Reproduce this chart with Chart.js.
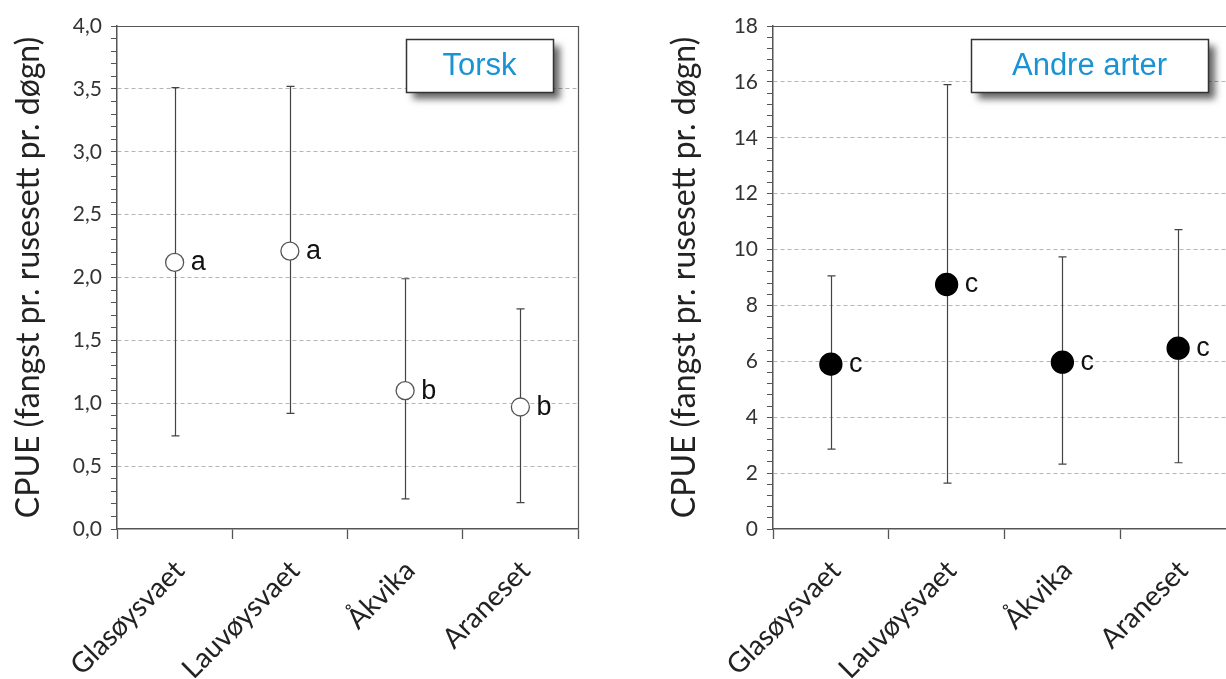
<!DOCTYPE html>
<html>
<head>
<meta charset="utf-8">
<script src="https://cdn.jsdelivr.net/npm/chart.js@4.4.0/dist/chart.umd.min.js"></script>
<style>
  html, body { margin: 0; padding: 0; background: #fff; overflow: hidden; width: 1226px; height: 679px; }
  canvas { position: absolute; top: 0; }
</style>
</head>
<body>
<canvas id="torsk" width="600" height="679" style="left:0px"></canvas>
<canvas id="andre" width="602" height="679" style="left:656px"></canvas>
<script>
var sites = ['Glasøysvaet', 'Lauvøysvaet', 'Åkvika', 'Araneset'];

// Torsk: CPUE mean with lower/upper limits
var torskMean = [2.12, 2.21, 1.10, 0.97];
var torskLow = [0.74, 0.92, 0.24, 0.21];
var torskHigh = [3.51, 3.52, 1.99, 1.75];
var torskGroups = ['a', 'a', 'b', 'b'];

// Andre arter
var andreMean = [5.90, 8.75, 5.97, 6.47];
var andreLow = [2.86, 1.64, 2.32, 2.37];
var andreHigh = [9.06, 15.90, 9.74, 10.71];
var andreGroups = ['c', 'c', 'c', 'c'];

var yTitle = 'CPUE (fangst pr. rusesett pr. døgn)';
var axisColor = '#555';
var textColor = '#333';

// error bars, group letters, frame and the title box
var errorBars = {
  id: 'errorBars',
  beforeDatasetsDraw: function (chart, args, opts) {
    var ctx = chart.ctx, x = chart.scales.x, y = chart.scales.y;
    ctx.save();
    ctx.strokeStyle = '#444';
    ctx.lineWidth = 1.2;
    opts.low.forEach(function (lo, i) {
      var px = Math.round(x.getPixelForValue(i)) + 0.5;
      var yl = y.getPixelForValue(lo);
      var yh = y.getPixelForValue(opts.high[i]);
      ctx.beginPath();
      ctx.moveTo(px, yl); ctx.lineTo(px, yh);
      ctx.moveTo(px - 4, yl); ctx.lineTo(px + 4, yl);
      ctx.moveTo(px - 4, yh); ctx.lineTo(px + 4, yh);
      ctx.stroke();
    });
    ctx.restore();
  },
  afterDatasetsDraw: function (chart, args, opts) {
    var ctx = chart.ctx, x = chart.scales.x, y = chart.scales.y;
    var r = chart.data.datasets[0].pointRadius;
    ctx.save();
    ctx.fillStyle = '#111';
    ctx.font = '27px "Liberation Sans", Arial, sans-serif';
    ctx.textAlign = 'left';
    ctx.textBaseline = 'alphabetic';
    opts.groups.forEach(function (g, i) {
      var px = x.getPixelForValue(i);
      var py = y.getPixelForValue(chart.data.datasets[0].data[i]);
      ctx.fillText(g, px + r + 7, py + 8);
    });
    ctx.restore();
  },
  afterDraw: function (chart, args, opts) {
    var ctx = chart.ctx, a = chart.chartArea;
    ctx.save();
    // top and right edge of the plot frame
    ctx.strokeStyle = axisColor;
    ctx.lineWidth = 1.2;
    ctx.beginPath();
    ctx.moveTo(a.left, a.top + 0.5);
    ctx.lineTo(a.right + 0.5, a.top + 0.5);
    ctx.lineTo(a.right + 0.5, a.bottom);
    ctx.stroke();

    // title box with drop shadow
    var bx = a.right - opts.boxRight - opts.boxWidth, by = a.top + 13, bw = opts.boxWidth, bh = 53;
    ctx.shadowColor = 'rgba(0,0,0,0.6)';
    ctx.shadowBlur = 7;
    ctx.shadowOffsetX = 7;
    ctx.shadowOffsetY = 7;
    ctx.fillStyle = '#fff';
    ctx.fillRect(bx, by, bw, bh);
    ctx.shadowColor = 'transparent';
    ctx.strokeStyle = '#333';
    ctx.lineWidth = 1.5;
    ctx.strokeRect(bx + 0.5, by + 0.5, bw, bh);
    ctx.fillStyle = '#1a93d5';
    ctx.font = '31px "Liberation Sans", Arial, sans-serif';
    ctx.textAlign = 'center';
    ctx.textBaseline = 'middle';
    ctx.fillText(opts.title, bx + bw / 2, by + bh / 2 + 1);
    ctx.restore();
  }
};

function makeChart(id, mean, low, high, groups, yMax, minorStep, majorStep, fmt, point, title, boxWidth, boxRight) {
  var isMajor = function (v) {
    var q = v / majorStep;
    return Math.abs(q - Math.round(q)) < 1e-6;
  };
  return new Chart(document.getElementById(id), {
    type: 'line',
    data: {
      labels: sites,
      datasets: [{
        data: mean,
        showLine: false,
        pointRadius: point.r,
        pointHoverRadius: point.r,
        pointBackgroundColor: point.fill,
        pointBorderColor: point.stroke,
        pointBorderWidth: 1.3
      }]
    },
    options: {
      responsive: false,
      animation: false,
      events: [],
      layout: { padding: { top: 26, right: 22, left: 0, bottom: 0 } },
      plugins: {
        legend: { display: false },
        tooltip: { enabled: false },
        errorBars: { low: low, high: high, groups: groups, title: title, boxWidth: boxWidth, boxRight: boxRight }
      },
      scales: {
        x: {
          type: 'category',
          offset: true,
          grid: { offset: true, drawOnChartArea: false, tickLength: 10, tickColor: axisColor, tickWidth: 1.3 },
          border: { color: axisColor, width: 1.5 },
          ticks: {
            color: '#222',
            font: { family: 'Lato', size: 28 },
            minRotation: 45, maxRotation: 45,
            labelOffset: 5,
            padding: 15,
            autoSkip: false
          },
          afterFit: function (s) { s.height = 150; }
        },
        y: {
          min: 0, max: yMax,
          grid: {
            color: function (c) {
              var v = c.tick ? c.tick.value : 0;
              return (isMajor(v) && v > 0 && v < yMax) ? '#b5b5b5' : 'rgba(0,0,0,0)';
            },
            tickColor: axisColor,
            tickLength: 6,
            lineWidth: 1
          },
          border: { color: axisColor, width: 1.5, dash: [4, 3] },
          ticks: {
            stepSize: minorStep,
            autoSkip: false,
            color: textColor,
            font: { family: 'Lato', size: 21 },
            padding: 9,
            callback: function (v) { return isMajor(v) ? fmt(v) : ''; }
          },
          title: {
            display: true,
            text: yTitle,
            color: '#222',
            font: { family: 'Lato', size: 32 },
            padding: { top: 9, bottom: 0 }
          },
          afterFit: function (s) { s.width = 117; }
        }
      }
    },
    plugins: [errorBars]
  });
}

makeChart('torsk', torskMean, torskLow, torskHigh, torskGroups, 4, 0.1, 0.5,
  function (v) { return v.toFixed(1).replace('.', ','); },
  { r: 9, fill: '#fff', stroke: '#555' }, 'Torsk', 147, 25);

makeChart('andre', andreMean, andreLow, andreHigh, andreGroups, 18, 0.4, 2,
  function (v) { return String(Math.round(v)); },
  { r: 11, fill: '#000', stroke: '#000' }, 'Andre arter', 237, 28);
</script>
</body>
</html>
